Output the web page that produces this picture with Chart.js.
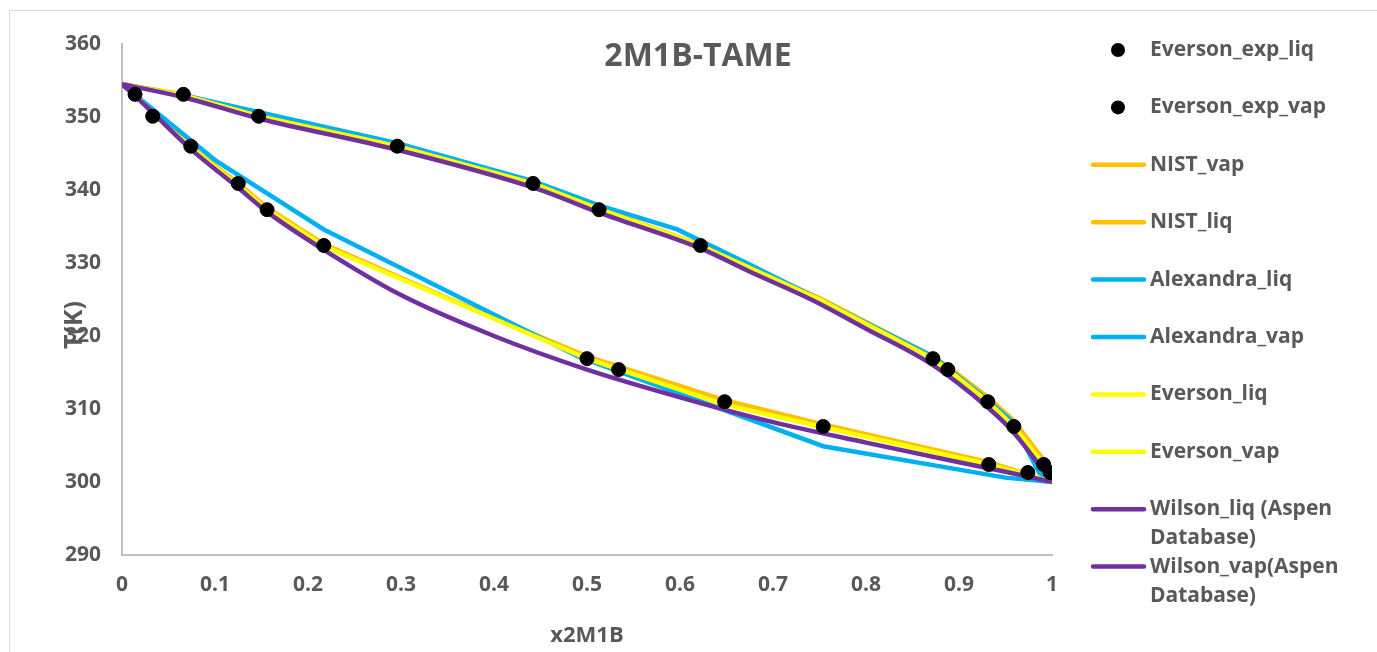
<!DOCTYPE html>
<html>
<head>
<meta charset="utf-8">
<script src="https://cdn.jsdelivr.net/npm/chart.js@4.4.1/dist/chart.umd.min.js"></script>
<style>
  html, body { margin: 0; padding: 0; background: #fff; }
  #wrap { position: relative; width: 1377px; height: 652px; }
  #frame { position: absolute; left: 9px; top: 10px; right: 0; bottom: 0;
           border-left: 1px solid #d9d9d9; border-top: 1px solid #d9d9d9; pointer-events: none; }
</style>
</head>
<body>
<div id="wrap">
  <canvas id="vle" width="1377" height="652"></canvas>
  <div id="frame"></div>
</div>
<script>
// Données (T en K, x = fraction molaire de 2M1B)
const expT    = [353.1, 350.1, 346.0, 340.9, 337.3, 332.4, 316.9, 315.4, 311.0, 307.6, 302.4, 301.3];
const expLiqX = [0.014, 0.033, 0.074, 0.125, 0.156, 0.217, 0.500, 0.534, 0.648, 0.754, 0.932, 0.974];
const expVapX = [0.066, 0.147, 0.296, 0.442, 0.513, 0.622, 0.872, 0.888, 0.931, 0.959, 0.991, 0.998];

const liqX    = [0, 0.014, 0.033, 0.074, 0.125, 0.156, 0.217, 0.35, 0.5, 0.648, 0.754, 0.932, 1];
const nistLiqT    = [354.5, 353.2, 350.6, 345.9, 340.9, 337.6, 332.6, 325.2, 317.2, 311.2, 307.9, 302.7, 300];
const eversonLiqT = [354.5, 353.1, 350.4, 345.8, 340.6, 337.3, 332.3, 325.1, 316.9, 310.6, 307.5, 302.4, 300];

const vapX    = [0, 0.066, 0.147, 0.296, 0.442, 0.513, 0.622, 0.75, 0.872, 0.888, 0.931, 0.959, 0.991, 1];
const nistVapT    = [354.5, 353.1, 350.2, 346.1, 341.0, 337.5, 332.5, 325.2, 317.2, 315.8, 311.6, 308.4, 303.0, 300];
const eversonVapT = [354.5, 353.0, 350.1, 346.0, 340.9, 337.4, 332.4, 325.0, 316.9, 315.4, 311.0, 307.6, 302.4, 300];

const alexLiqX = [0, 0.1, 0.217, 0.492, 0.754, 0.95, 1];
const alexLiqT = [354.5, 344.1, 334.6, 317.1, 304.9, 300.6, 300];
const alexVapX = [0, 0.066, 0.296, 0.442, 0.513, 0.597, 0.675, 0.872, 0.93, 0.958, 0.986, 1];
const alexVapT = [354.5, 353.0, 346.4, 341.2, 337.9, 334.6, 329.8, 317.2, 311.3, 308.2, 301.3, 300];

const wilsonLiqX = [0, 0.014, 0.033, 0.074, 0.125, 0.156, 0.217, 0.3, 0.4, 0.5, 0.6, 0.7, 0.8, 0.9, 0.95, 1];
const wilsonLiqT = [354.5, 352.9, 350.6, 345.6, 340.3, 337.0, 331.8, 325.6, 320.0, 315.4, 311.6, 308.2, 305.4, 302.7, 301.4, 300];
const wilsonVapX = [0, 0.066, 0.147, 0.296, 0.448, 0.513, 0.622, 0.677, 0.741, 0.8, 0.872, 0.93, 0.958, 0.99, 1];
const wilsonVapT = [354.5, 352.7, 349.8, 345.5, 340.1, 336.9, 332.0, 328.7, 325.0, 321.0, 316.0, 310.3, 306.9, 301.7, 300];

const xTicks = { min: 0, max: 1, step: 0.1 };
const yTicks = { min: 290, max: 360, step: 10 };

const TEXT = '#595959';
const FONT = '"Open Sans", "DejaVu Sans", sans-serif';

function pts(xs, ys) {
    return xs.map((x, i) => ({ x: x, y: ys[i] }));
}

function lineSet(label, xs, ys, color, order, smooth) {
    const ds = {
        label: label, data: pts(xs, ys), showLine: true,
        borderColor: color, backgroundColor: color, borderWidth: 4.5,
        pointRadius: 0, pointHoverRadius: 0, order: order
    };
    if (smooth) ds.cubicInterpolationMode = 'monotone';
    return ds;
}

function dotSet(label, xs, ys) {
    return {
        label: label, data: pts(xs, ys), showLine: false,
        pointRadius: 7, pointBackgroundColor: '#000', pointBorderColor: '#000',
        backgroundColor: '#000', borderColor: '#000', order: 0
    };
}

// Ordre = ordre de la légende ; "order" gère l'empilement du dessin
const datasets = [
    dotSet('Everson_exp_liq', expLiqX, expT),
    dotSet('Everson_exp_vap', expVapX, expT),
    lineSet('NIST_vap', vapX, nistVapT, '#FFC000', 4),
    lineSet('NIST_liq', liqX, nistLiqT, '#FFC000', 4),
    lineSet('Alexandra_liq', alexLiqX, alexLiqT, '#00B0F0', 3),
    lineSet('Alexandra_vap', alexVapX, alexVapT, '#00B0F0', 3),
    lineSet('Everson_liq', liqX, eversonLiqT, '#FFFF00', 2),
    lineSet('Everson_vap', vapX, eversonVapT, '#FFFF00', 2),
    lineSet('Wilson_liq (Aspen Database)', wilsonLiqX, wilsonLiqT, '#7030A0', 1, true),
    lineSet('Wilson_vap(Aspen Database)', wilsonVapX, wilsonVapT, '#7030A0', 1, true)
];

// Titres et légende à droite (dessinés sur le canvas)
const decorPlugin = {
    id: 'decor',
    afterDraw(chart) {
        const ctx = chart.ctx;
        const area = chart.chartArea;
        ctx.save();
        ctx.fillStyle = TEXT;
        ctx.textAlign = 'center';
        ctx.textBaseline = 'middle';

        ctx.font = 'bold 32px ' + FONT;
        ctx.fillText('2M1B-TAME', 698, 57);

        ctx.font = 'bold 22px ' + FONT;
        ctx.fillText('x2M1B', (area.left + area.right) / 2, 636);

        ctx.save();
        ctx.font = 'bold 25px ' + FONT;
        ctx.translate(75, 325);
        ctx.rotate(-Math.PI / 2);
        ctx.fillText('T(K)', 0, 0);
        ctx.restore();

        // légende
        ctx.font = 'bold 21px ' + FONT;
        ctx.textAlign = 'left';
        const maxW = 200;
        chart.data.datasets.forEach((ds, i) => {
            const cy = 50 + 57.4 * i;
            if (ds.showLine) {
                ctx.strokeStyle = ds.borderColor;
                ctx.lineWidth = 4.5;
                ctx.lineCap = 'round';
                ctx.beginPath();
                ctx.moveTo(1093, cy);
                ctx.lineTo(1144, cy);
                ctx.stroke();
            } else {
                ctx.fillStyle = '#000';
                ctx.beginPath();
                ctx.arc(1118, cy, 7, 0, Math.PI * 2);
                ctx.fill();
            }
            // découpage en lignes
            const words = ds.label.split(' ');
            const lines = [];
            let cur = '';
            words.forEach(w => {
                const test = cur ? cur + ' ' + w : w;
                if (cur && ctx.measureText(test).width > maxW) {
                    lines.push(cur);
                    cur = w;
                } else {
                    cur = test;
                }
            });
            lines.push(cur);
            ctx.fillStyle = TEXT;
            lines.forEach((ln, k) => ctx.fillText(ln, 1150, cy + k * 29));
        });
        ctx.restore();
    }
};

const ctx = document.getElementById('vle').getContext('2d');
new Chart(ctx, {
    type: 'scatter',
    data: { datasets: datasets },
    options: {
        responsive: false,
        animation: false,
        layout: { padding: { top: 44, right: 325, bottom: 0, left: 0 } },
        plugins: {
            legend: { display: false },
            title: { display: false },
            tooltip: { enabled: false }
        },
        scales: {
            x: {
                type: 'linear',
                min: xTicks.min, max: xTicks.max,
                grid: { display: false, drawTicks: false },
                border: { display: true, color: '#bfbfbf', width: 2 },
                ticks: {
                    stepSize: xTicks.step, padding: 17, color: TEXT,
                    font: { family: FONT, size: 21, weight: 'bold' },
                    callback: v => String(Math.round(v * 10) / 10)
                },
                afterFit: s => { s.height = 97; }
            },
            y: {
                type: 'linear',
                min: yTicks.min, max: yTicks.max,
                grid: { display: false, drawTicks: false },
                border: { display: true, color: '#bfbfbf', width: 2 },
                ticks: {
                    stepSize: yTicks.step, padding: 21, color: TEXT,
                    font: { family: FONT, size: 21, weight: 'bold' }
                },
                afterFit: s => { s.width = 122; }
            }
        }
    },
    plugins: [decorPlugin]
});
</script>
</body>
</html>
